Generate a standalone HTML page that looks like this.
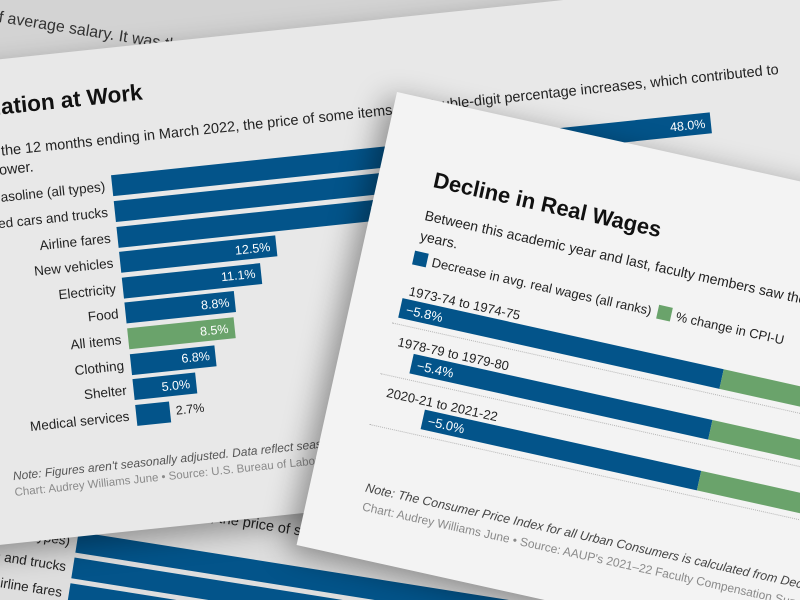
<!DOCTYPE html>
<html style="width:800px;height:600px;overflow:hidden;">
<head>
<meta charset="utf-8">
<style>
html{width:800px;height:600px;overflow:hidden;margin:0}
body{margin:0;width:800px;height:600px;overflow:hidden;background:#d3d3d3;position:relative;font-family:"Liberation Sans",sans-serif}
.card{position:absolute}
.origin{position:absolute;left:80px;top:140px;width:0;height:0}
.abs{position:absolute;white-space:nowrap;line-height:1}
.ttl{font-weight:bold;color:#111}
.note{font-style:italic;color:#555}
.credit{color:#8a8a8a}
#clip{position:absolute;left:0;top:0;width:800px;height:600px;overflow:hidden}
</style>
</head>
<body>
<div id="clip">

<div class="abs" style="left:0;top:10px;transform-origin:0 0;transform:rotate(9deg);font-size:16px;color:#333;">f average salary. It was the largest</div>

<!-- lower duplicate card -->
<div class="card" id="cardLower" style="left:-114.6px;top:386.7px;width:1100px;height:483px;background:#dedede;transform-origin:80px 140px;transform:rotate(9deg);box-shadow:0 8px 25px rgba(0,0,0,.3);">
  <div class="origin" id="lowerOrigin">
    <div class="abs ttl" style="left:-23px;top:-103px;font-size:22.5px;">Inflation at Work</div>
    <div class="abs" style="left:-10px;top:-55px;font-size:14.5px;color:#222;">In the 12 months ending in March 2022, the price of some items saw double-digit percentage increases, which contributed to</div>
  </div>
</div>

<!-- card A -->
<div class="card" id="cardA" style="left:-80px;top:60px;width:1100px;height:483px;background:#e8e8e8;transform-origin:80px 140px;transform:rotate(-6deg);box-shadow:0 10px 28px rgba(0,0,0,.35);">
  <div class="origin" id="aOrigin">
    <div class="abs ttl" style="left:-23px;top:-103px;font-size:22.5px;">Inflation at Work</div>
    <div class="abs" style="left:-10px;top:-55px;font-size:14.5px;color:#222;">In the 12 months ending in March 2022, the price of some items saw double-digit percentage increases, which contributed to</div>
    <div class="abs" style="left:-6px;top:-36px;font-size:14.5px;color:#222;">power.</div>
    <div class="abs note" style="left:-16px;top:270px;font-size:12px;">Note: Figures aren't seasonally adjusted. Data reflect seasonal price changes.</div>
    <div class="abs credit" style="left:-16px;top:288px;font-size:11.5px;">Chart: Audrey Williams June • Source: U.S. Bureau of Labor Statistics</div>
  </div>
</div>

<!-- card B -->
<div class="card" id="cardB" style="left:397px;top:92px;width:720px;height:464px;background:#f3f3f3;transform-origin:0 0;transform:rotate(12.5deg);box-shadow:-8px 8px 30px rgba(0,0,0,.4);overflow:hidden;">
  <div class="abs ttl" style="left:55px;top:67px;font-size:22px;">Decline in Real Wages</div>
  <div class="abs" style="left:54px;top:107px;font-size:14px;color:#222;">Between this academic year and last, faculty members saw the largest drop in real wages in nearly 50</div>
  <div class="abs" style="left:54px;top:128px;font-size:14px;color:#222;">years.</div>
  <div class="abs" style="left:52px;top:151px;width:14px;height:14px;background:#03548a;"></div>
  <div class="abs" style="left:71px;top:152px;font-size:13px;color:#222;">Decrease in avg. real wages (all ranks)</div>
  <div class="abs" style="left:302px;top:151px;width:14px;height:14px;background:#6aa36b;"></div>
  <div class="abs" style="left:321px;top:152px;font-size:13px;color:#222;">% change in CPI-U</div>
  <div class="abs note" style="left:55px;top:387px;font-size:12.5px;color:#444;">Note: The Consumer Price Index for all Urban Consumers is calculated from December to December.</div>
  <div class="abs credit" style="left:56px;top:406px;font-size:12px;">Chart: Audrey Williams June • Source: AAUP's 2021–22 Faculty Compensation Survey</div>
</div>

</div>
<script>
const inflCategories = ["Gasoline (all types)","Used cars and trucks","Airline fares","New vehicles","Electricity","Food","All items","Clothing","Shelter","Medical services"];
const inflValues = [48.0, 35.3, 23.6, 12.5, 11.1, 8.8, 8.5, 6.8, 5.0, 2.7];
const inflValueLabels = ["48.0%","35.3%","23.6%","12.5%","11.1%","8.8%","8.5%","6.8%","5.0%","2.7%"];
const inflHighlight = ["All items"];

const wagePeriods = ["1973-74 to 1974-75","1978-79 to 1979-80","2020-21 to 2021-22"];
const wageDecline = [-5.8, -5.4, -5.0];
const wageLabels = ["−5.8%","−5.4%","−5.0%"];
const cpiChange = [11.0, 13.3, 7.0];

function xInfl(v){ return 113 + v * 12.55; }
function yInfl(i){ return -12.6 + i * 25.6; }
function xWage(v){ return 379 + v * 56.7; }
function yWage(i){ return 200 + i * 52; }

function buildInflation(parent, prefix){
  const h = 21;
  for (let i = 0; i < inflCategories.length; i++){
    const top = yInfl(i);
    const x0 = xInfl(0), x1 = xInfl(inflValues[i]);
    const bar = document.createElement('div');
    bar.className = 'abs';
    
    
    bar.style.left = x0 + 'px'; bar.style.top = top + 'px';
    bar.style.width = (x1 - x0) + 'px'; bar.style.height = h + 'px';
    bar.style.background = inflHighlight.indexOf(inflCategories[i]) >= 0 ? '#6aa36b' : '#03548a';
    parent.appendChild(bar);

    const lab = document.createElement('div');
    lab.className = 'abs';
    
    
    lab.textContent = inflCategories[i];
    lab.style.right = (-106) + 'px';
    lab.style.top = (top + 4) + 'px';
    lab.style.fontSize = '13.5px'; lab.style.color = '#222';
    lab.style.textAlign = 'right';
    parent.appendChild(lab);

    const val = document.createElement('div');
    val.className = 'abs';
    
    
    val.textContent = inflValueLabels[i];
    val.style.fontSize = '12.5px';
    val.style.top = (top + 4.5) + 'px';
    if (x1 - x0 > 45){
      val.style.right = (-(x1 - 6)) + 'px';
      val.style.color = '#fff';
    } else {
      val.style.left = (x1 + 6) + 'px';
      val.style.color = '#222';
    }
    parent.appendChild(val);
  }
}
buildInflation(document.getElementById('aOrigin'), 'inflation-');
buildInflation(document.getElementById('lowerOrigin'), 'lower-inflation-');

(function(){
  const card = document.getElementById('cardB');
  const h = 20;
  for (let i = 0; i < wagePeriods.length; i++){
    const top = yWage(i);
    const lab = document.createElement('div');
    lab.className = 'abs';
    
    
    lab.textContent = wagePeriods[i];
    lab.style.left = '55px';
    lab.style.top = (top - 15) + 'px';
    lab.style.fontSize = '13px'; lab.style.color = '#222';
    card.appendChild(lab);

    const xb = xWage(wageDecline[i]), x0 = xWage(0), xg = xWage(cpiChange[i]);
    const blue = document.createElement('div');
    blue.className = 'abs';
    
    
    blue.style.left = xb + 'px'; blue.style.top = top + 'px';
    blue.style.width = (x0 - xb) + 'px'; blue.style.height = h + 'px';
    blue.style.background = '#03548a';
    card.appendChild(blue);

    const green = document.createElement('div');
    green.className = 'abs';
    
    
    green.style.left = x0 + 'px'; green.style.top = top + 'px';
    green.style.width = (xg - x0) + 'px'; green.style.height = h + 'px';
    green.style.background = '#6aa36b';
    card.appendChild(green);

    const val = document.createElement('div');
    val.className = 'abs';
    
    
    val.textContent = wageLabels[i];
    val.style.left = (xb + 6) + 'px';
    val.style.top = (top + 4) + 'px';
    val.style.fontSize = '13px'; val.style.color = '#fff';
    card.appendChild(val);

    const line = document.createElement('div');
    line.className = 'abs';
    
    
    line.style.left = '45px'; line.style.top = (top + 26) + 'px';
    line.style.width = '700px'; line.style.height = '0';
    line.style.borderTop = '1px dotted #b5b5b5';
    card.appendChild(line);
  }
})();
</script>
</body>
</html>
